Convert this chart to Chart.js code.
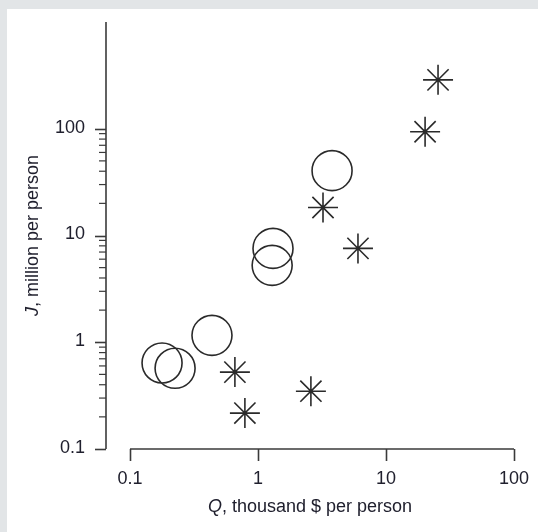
<!DOCTYPE html>
<html>
<head>
<meta charset="utf-8">
<script src="https://cdn.jsdelivr.net/npm/chart.js@4.4.1/dist/chart.umd.min.js"></script>
<style>
  html, body { margin: 0; padding: 0; background: #e2e5e7; }
  canvas { display: block; }
</style>
</head>
<body>
<canvas id="c" width="538" height="532"></canvas>
<script>
// Data
const circleQ = [0.178, 0.225, 0.437, 1.29, 1.31, 3.79];
const circleJ = [0.64, 0.57, 1.16, 5.25, 7.57, 40.5];
const starQ = [25.5, 20.2, 3.22, 6.04, 0.66, 0.79, 2.59];
const starJ = [287, 93.8, 18.3, 7.57, 0.525, 0.217, 0.348];
const xTicks = [0.1, 1, 10, 100];
const xTickLabels = ['0.1', '1', '10', '100'];
const yTicks = [0.1, 1, 10, 100];
const yTickLabels = ['0.1', '1', '10', '100'];
const yMinorMultipliers = [2, 3, 4, 5, 6, 7, 8, 9];
const xTitle = ['Q', ', thousand $ per person'];
const yTitle = ['J', ', million per person'];

const toPoints = (xs, ys) => xs.map((x, i) => ({ x: x, y: ys[i] }));

const FONT = '"Liberation Sans", Arial, sans-serif';
const FSIZE = '18px ';
const INK = '#20202e';
const AXIS = '#3a3a3a';

const bgPlugin = {
  id: 'bg',
  beforeDraw(chart) {
    const ctx = chart.ctx;
    ctx.save();
    ctx.fillStyle = '#e2e5e7';
    ctx.fillRect(0, 0, chart.width, chart.height);
    ctx.fillStyle = '#ffffff';
    ctx.fillRect(7, 9, chart.width - 7, chart.height - 9);
    ctx.restore();
  }
};

function drawMixed(ctx, parts, x, y) {
  // parts[0] italic, parts[1] normal, centred at x
  ctx.font = 'italic ' + FSIZE + FONT;
  const w0 = ctx.measureText(parts[0]).width;
  ctx.font = FSIZE + FONT;
  const w1 = ctx.measureText(parts[1]).width;
  const start = x - (w0 + w1) / 2;
  ctx.textAlign = 'left';
  ctx.textBaseline = 'middle';
  ctx.font = 'italic ' + FSIZE + FONT;
  ctx.fillText(parts[0], start, y);
  ctx.font = FSIZE + FONT;
  ctx.fillText(parts[1], start + w0, y);
}

const axesPlugin = {
  id: 'axes',
  afterDraw(chart) {
    const ctx = chart.ctx;
    const xs = chart.scales.x, ys = chart.scales.y;
    const ca = chart.chartArea;
    const yAxisX = ca.left - 24;
    const xAxisY = ys.getPixelForValue(yTicks[0]);
    ctx.save();
    ctx.strokeStyle = AXIS;
    ctx.lineWidth = 1.6;
    ctx.lineCap = 'butt';

    // Y axis line
    ctx.beginPath();
    ctx.moveTo(yAxisX, ys.getPixelForValue(ys.max));
    ctx.lineTo(yAxisX, ys.getPixelForValue(ys.min));
    ctx.stroke();
    // Y major ticks
    yTicks.forEach(v => {
      const p = Math.round(ys.getPixelForValue(v)) + 0.5;
      ctx.beginPath();
      ctx.moveTo(yAxisX, p);
      ctx.lineTo(yAxisX - 11, p);
      ctx.stroke();
    });
    // Y minor ticks
    ctx.lineWidth = 1.2;
    for (let d = 0; d < yTicks.length - 1; d++) {
      yMinorMultipliers.forEach(m => {
        const p = ys.getPixelForValue(yTicks[d] * m);
        ctx.beginPath();
        ctx.moveTo(yAxisX, p);
        ctx.lineTo(yAxisX - 7, p);
        ctx.stroke();
      });
    }
    // Y labels
    ctx.fillStyle = INK;
    ctx.font = FSIZE + FONT;
    ctx.textAlign = 'right';
    ctx.textBaseline = 'middle';
    yTicks.forEach((v, i) => {
      ctx.fillText(yTickLabels[i], yAxisX - 21, ys.getPixelForValue(v) - 1);
    });

    // X axis line
    ctx.lineWidth = 1.6;
    ctx.beginPath();
    ctx.moveTo(xs.getPixelForValue(xs.min), xAxisY);
    ctx.lineTo(xs.getPixelForValue(xs.max), xAxisY);
    ctx.stroke();
    xTicks.forEach(v => {
      const p = Math.round(xs.getPixelForValue(v)) + 0.5;
      ctx.beginPath();
      ctx.moveTo(p, xAxisY);
      ctx.lineTo(p, xAxisY + 12);
      ctx.stroke();
    });
    ctx.textAlign = 'center';
    ctx.textBaseline = 'middle';
    xTicks.forEach((v, i) => {
      ctx.fillText(xTickLabels[i], xs.getPixelForValue(v), xAxisY + 30);
    });

    // X title
    drawMixed(ctx, xTitle, (xs.getPixelForValue(xs.min) + xs.getPixelForValue(xs.max)) / 2 - 12, xAxisY + 58);

    // Y title (rotated)
    ctx.save();
    ctx.translate(33, (ys.getPixelForValue(ys.max) + ys.getPixelForValue(ys.min)) / 2);
    ctx.rotate(-Math.PI / 2);
    drawMixed(ctx, yTitle, 0, 0);
    ctx.restore();

    ctx.restore();
  }
};

new Chart(document.getElementById('c'), {
  type: 'scatter',
  data: {
    datasets: [
      {
        label: 'circles',
        data: toPoints(circleQ, circleJ),
        pointStyle: 'circle',
        pointRadius: 20,
        pointHoverRadius: 20,
        borderColor: '#2a2a2a',
        backgroundColor: 'rgba(0,0,0,0)',
        borderWidth: 1.6,
        clip: false
      },
      {
        label: 'stars',
        data: toPoints(starQ, starJ),
        pointStyle: 'star',
        pointRadius: 15,
        pointHoverRadius: 15,
        borderColor: '#2a2a2a',
        backgroundColor: 'rgba(0,0,0,0)',
        borderWidth: 1.6,
        clip: false
      }
    ]
  },
  options: {
    responsive: false,
    animation: false,
    devicePixelRatio: 1,
    events: [],
    layout: { padding: { left: 130, right: 24, top: 22, bottom: 83 } },
    plugins: { legend: { display: false }, tooltip: { enabled: false } },
    scales: {
      x: { type: 'logarithmic', min: 0.1, max: 100, display: false },
      y: { type: 'logarithmic', min: 0.1, max: 1000, display: false }
    }
  },
  plugins: [bgPlugin, axesPlugin]
});
</script>
</body>
</html>
